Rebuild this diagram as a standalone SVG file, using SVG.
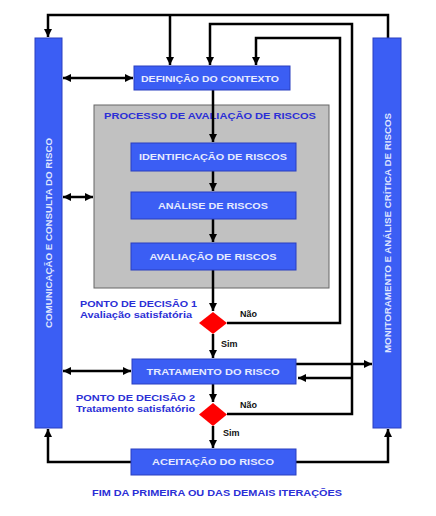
<svg xmlns="http://www.w3.org/2000/svg" width="436" height="516" viewBox="0 0 436 516">
<defs>
<style>
.box{fill:#3b5ef4;stroke:#2a3fc0;stroke-width:1}
.bt{font-family:"Liberation Sans",Arial,sans-serif;font-weight:bold;font-size:9px;fill:#e6ebff;text-anchor:middle}
.vt{font-family:"Liberation Sans",Arial,sans-serif;font-weight:bold;font-size:9px;fill:#dfe5ff;text-anchor:middle}
.lbl{font-family:"Liberation Sans",Arial,sans-serif;font-weight:bold;font-size:8.5px;fill:#2b2fd6}
.yn{font-family:"Liberation Sans",Arial,sans-serif;font-weight:bold;font-size:9px;fill:#111}
.ln{fill:none;stroke:#000;stroke-width:2.5}
.dia{fill:#ff0000}
</style>
<marker id="ah" markerUnits="userSpaceOnUse" markerWidth="8" markerHeight="8" viewBox="0 0 8 8" refX="8" refY="4" orient="auto-start-reverse">
<path d="M0,0 L8,4 L0,8 Z" fill="#000"/>
</marker>
</defs>
<rect width="436" height="516" fill="#fff"/>

<g id="processo">
<rect x="94" y="105" width="235" height="183" fill="#c1c1c1" stroke="#666" stroke-width="1"/>
<text class="lbl" x="210" y="119" text-anchor="middle" font-size="9" textLength="212" lengthAdjust="spacingAndGlyphs">PROCESSO DE AVALIAÇÃO DE RISCOS</text>
</g>

<g id="connectors">
<path class="ln" d="M388,38 V15 H48 V37" marker-end="url(#ah)"/>
<path class="ln" d="M170,15 V65" marker-end="url(#ah)"/>
<path class="ln" d="M227,414 H352 V24 H210 V65" marker-end="url(#ah)"/>
<path class="ln" d="M352,378 H298" marker-end="url(#ah)"/>
<path class="ln" d="M227,323 H340 V38 H256 V65" marker-end="url(#ah)"/>
<path class="ln" d="M213,90 V142" marker-end="url(#ah)"/>
<path class="ln" d="M213,171 V191" marker-end="url(#ah)"/>
<path class="ln" d="M213,219 V242" marker-end="url(#ah)"/>
<path class="ln" d="M213,270 V311" marker-end="url(#ah)"/>
<path class="ln" d="M213,334 V358" marker-end="url(#ah)"/>
<path class="ln" d="M213,384 V402" marker-end="url(#ah)"/>
<path class="ln" d="M213,426 V448" marker-end="url(#ah)"/>
<path class="ln" d="M131,462 H48 V429" marker-end="url(#ah)"/>
<path class="ln" d="M296,462 H388 V429" marker-end="url(#ah)"/>
<path class="ln" d="M63,78 H133" marker-start="url(#ah)" marker-end="url(#ah)"/>
<path class="ln" d="M63,197 H93" marker-start="url(#ah)" marker-end="url(#ah)"/>
<path class="ln" d="M63,371 H131" marker-start="url(#ah)" marker-end="url(#ah)"/>
<path class="ln" d="M296,364 H372" marker-end="url(#ah)"/>
</g>

<g id="comunicacao">
<rect class="box" x="35" y="38" width="27" height="390"/>
<text class="vt" transform="translate(51.5,233) rotate(-90)" textLength="190" lengthAdjust="spacingAndGlyphs">COMUNICAÇÃO E CONSULTA DO RISCO</text>
</g>

<g id="monitoramento">
<rect class="box" x="373" y="38" width="28" height="390"/>
<text class="vt" transform="translate(390.5,233) rotate(-90)" textLength="240" lengthAdjust="spacingAndGlyphs">MONITORAMENTO E ANÁLISE CRÍTICA DE RISCOS</text>
</g>

<g id="definicao">
<rect class="box" x="134" y="66" width="156" height="24"/>
<text class="bt" x="210" y="81.5" textLength="138" lengthAdjust="spacingAndGlyphs">DEFINIÇÃO DO CONTEXTO</text>
</g>

<g id="identificacao">
<rect class="box" x="131" y="143" width="165" height="28"/>
<text class="bt" x="213" y="160" textLength="148" lengthAdjust="spacingAndGlyphs">IDENTIFICAÇÃO DE RISCOS</text>
</g>

<g id="analise">
<rect class="box" x="131" y="192" width="165" height="27"/>
<text class="bt" x="213" y="208.5" textLength="110" lengthAdjust="spacingAndGlyphs">ANÁLISE DE RISCOS</text>
</g>

<g id="avaliacao">
<rect class="box" x="131" y="243" width="165" height="27"/>
<text class="bt" x="213" y="259.5" textLength="127" lengthAdjust="spacingAndGlyphs">AVALIAÇÃO DE RISCOS</text>
</g>

<g id="decisao1">
<path class="dia" d="M213,312 L227,323 L213,334 L199,323 Z"/>
<text class="lbl" x="80" y="307" textLength="117" lengthAdjust="spacingAndGlyphs">PONTO DE DECISÃO 1</text>
<text class="lbl" x="80" y="318" textLength="112" lengthAdjust="spacingAndGlyphs">Avaliação satisfatória</text>
<text class="yn" x="240" y="317">Não</text>
<text class="yn" x="221" y="347">Sim</text>
</g>

<g id="tratamento">
<rect class="box" x="132" y="359" width="164" height="25"/>
<text class="bt" x="213" y="374.5" textLength="133" lengthAdjust="spacingAndGlyphs">TRATAMENTO DO RISCO</text>
</g>

<g id="decisao2">
<path class="dia" d="M213,403 L227,414.5 L213,426 L199,414.5 Z"/>
<text class="lbl" x="76" y="401" textLength="119" lengthAdjust="spacingAndGlyphs">PONTO DE DECISÃO 2</text>
<text class="lbl" x="76" y="412" textLength="119" lengthAdjust="spacingAndGlyphs">Tratamento satisfatório</text>
<text class="yn" x="240" y="408">Não</text>
<text class="yn" x="223" y="436">Sim</text>
</g>

<g id="aceitacao">
<rect class="box" x="131" y="449" width="165" height="26"/>
<text class="bt" x="213" y="465" textLength="122" lengthAdjust="spacingAndGlyphs">ACEITAÇÃO DO RISCO</text>
</g>

<g id="fim">
<text class="lbl" x="217" y="496" text-anchor="middle" textLength="250" lengthAdjust="spacingAndGlyphs">FIM DA PRIMEIRA OU DAS DEMAIS ITERAÇÕES</text>
</g>
</svg>
